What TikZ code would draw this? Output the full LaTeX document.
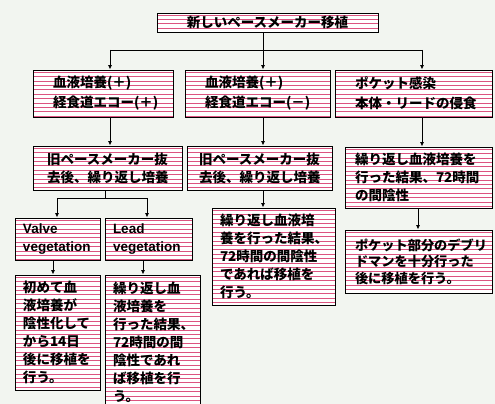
\documentclass[tikz,border=0pt]{standalone}
\usepackage{fontspec}
\setmainfont{Noto Sans CJK JP}
\newfontfamily\latinfont{Liberation Sans}
\usetikzlibrary{arrows.meta}
\definecolor{bgc}{RGB}{242,245,240}
\definecolor{stripec}{RGB}{220,84,128}
\newcommand\bxfont{\fontsize{13.5}{18}\selectfont\bfseries}
\newcommand\bxfontw{\fontsize{13.5}{20}\selectfont\bfseries}
\newcommand\lat[1]{{\latinfont\bfseries #1}}
\begin{document}
\begin{tikzpicture}[x=1pt,y=-1pt,
  pbox/.style={draw=black, line width=0.9pt, fill=white, inner xsep=#1, inner ysep=0pt,
    align=left, font=\bxfont,
    path picture={\foreach \k in {0,...,40}{
      \draw[stripec, line width=1pt]
        ([yshift={-2.2pt-\k*4.4pt}]path picture bounding box.north west) --
        ([yshift={-2.2pt-\k*4.4pt}]path picture bounding box.north east);}}},
  conn/.style={draw=black, line width=0.9pt},
  arr/.style={conn, -{Latex[length=4.5pt,width=4pt]}}]
\useasboundingbox (0,0) rectangle (495,404);
\fill[bgc] (0,0) rectangle (495,404);

% top
\node[pbox=8pt, align=center, text width=205pt, minimum width=221pt, minimum height=19pt]
  (T) at (267.5,22.5) {新しいペースメーカー移植};

% row 2
\node[pbox=20pt, font=\bxfontw, text width=100pt, minimum width=140pt, minimum height=47pt]
  (A1) at (103,93.5) {血液培養(＋)\\経食道エコー(＋)};
\node[pbox=20pt, font=\bxfontw, text width=105pt, minimum width=145pt, minimum height=47pt]
  (A2) at (257.5,93.5) {血液培養(＋)\\経食道エコー(－)};
\node[pbox=20pt, font=\bxfontw, text width=117pt, minimum width=157pt, minimum height=47pt]
  (A3) at (413.5,93.5) {ポケット感染\\本体・リードの侵食};

% row 3
\node[pbox=14pt, text width=121pt, minimum width=149pt, minimum height=44pt]
  (B1) at (107.5,168) {旧ペースメーカー抜\\去後、繰り返し培養};
\node[pbox=12pt, text width=121pt, minimum width=145pt, minimum height=44pt]
  (B2) at (259.5,168) {旧ペースメーカー抜\\去後、繰り返し培養};
\node[pbox=10pt, text width=127pt, minimum width=147pt, minimum height=61pt]
  (B3) at (418.5,177.5) {繰り返し血液培養を\\行った結果、72時間\\の間陰性};

% row 4
\node[pbox=8pt, text width=69pt, minimum width=85pt, minimum height=42pt]
  (C1) at (57.5,239) {\lat{Valve}\\\lat{vegetation}};
\node[pbox=8pt, text width=71pt, minimum width=87pt, minimum height=42pt]
  (C2) at (148.5,239) {\lat{Lead}\\\lat{vegetation}};
\node[pbox=8pt, text width=107pt, minimum width=123pt, minimum height=97pt]
  (D2) at (273.5,256.5) {繰り返し血液培\\養を行った結果、\\72時間の間陰性\\であれば移植を\\行う。};
\node[pbox=10pt, text width=127pt, minimum width=147pt, minimum height=63pt, font=\fontsize{13.2}{16.5}\selectfont\bfseries]
  (D3) at (418.5,261.5) {ポケット部分のデブリ\\ドマンを十分行った\\後に移植を行う。};

% row 5
\node[pbox=8pt, text width=69pt, minimum width=85pt, minimum height=115pt]
  (E1) at (57.5,332.5) {初めて血\\液培養が\\陰性化して\\から14日\\後に移植を\\行う。};
\node[pbox=8pt, text width=79pt, minimum width=95pt, minimum height=135pt]
  (E2) at (152.5,342.5) {繰り返し血\\液培養を\\行った結果、\\72時間の間\\陰性であれ\\ば移植を行\\う。};

% connectors
\coordinate (j1) at (110,50);
\coordinate (j2) at (263,50);
\coordinate (j3) at (422,50);
\draw[conn] (T.south -| j2) -- (j2);
\draw[conn] (j1) -- (j3);
\draw[arr] (j1) -- (j1 |- A1.north);
\draw[arr] (j2) -- (j2 |- A2.north);
\draw[arr] (j3) -- (j3 |- A3.north);

\draw[arr] (A1.south -| j1) -- (j1 |- B1.north);
\draw[arr] (A2.south -| j2) -- (j2 |- B2.north);
\draw[arr] (A3.south -| j3) -- (j3 |- B3.north);

\coordinate (k) at (105,198);
\coordinate (k1) at (57,198);
\coordinate (k2) at (147,198);
\draw[conn] (B1.south -| k) -- (k);
\draw[conn] (k1) -- (k2);
\draw[arr] (k1) -- (k1 |- C1.north);
\draw[arr] (k2) -- (k2 |- C2.north);

\coordinate (m1) at (53,268);
\coordinate (m2) at (143,268);
\coordinate (m3) at (418,220);
\draw[arr] (C1.south -| m1) -- (m1 |- E1.north);
\draw[arr] (C2.south -| m2) -- (m2 |- E2.north);
\draw[arr] (B2.south -| j2) -- (j2 |- D2.north);
\draw[arr] (B3.south -| m3) -- (m3 |- D3.north);
\end{tikzpicture}
\end{document}
